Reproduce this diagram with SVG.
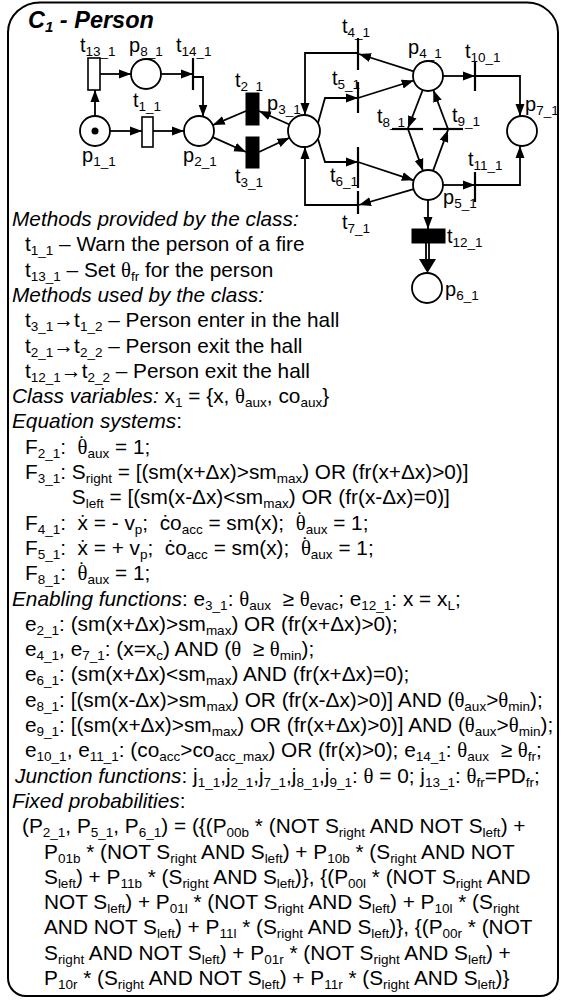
<svg xmlns="http://www.w3.org/2000/svg" width="568" height="1000" viewBox="0 0 568 1000">
<style>
text{font-family:"Liberation Sans",Arial,sans-serif;font-size:20.8px;fill:#000}
.n{font-size:20px}
.h{font-style:italic}
.s{font-size:13.5px;baseline-shift:-4px}
.g{font-family:"Liberation Serif","Times New Roman",serif}
.title{font-weight:bold;font-style:italic;font-size:23.5px}
.ts{font-size:15px;baseline-shift:-4px}
.ln{fill:none;stroke:#000;stroke-width:1.8}
.bar{stroke:#000;stroke-width:2.2}
.pl{fill:#fff;stroke:#000;stroke-width:1.8}
.tb{fill:#000;stroke:#000;stroke-width:1}
.tw{fill:#fff;stroke:#000;stroke-width:1.6}
</style>
<defs>
<marker id="a" markerWidth="12" markerHeight="10" refX="12" refY="5" orient="auto" markerUnits="userSpaceOnUse"><path d="M0,0.5 L12,5 L0,9.5 z" fill="#000"/></marker>
</defs>
<rect width="568" height="1000" fill="#fff"/>
<path id="frame" d="M8,32 A32,30 0 0 1 40,2.5 L527,2.5 A31,30 0 0 1 558,32 L558,978 A18,18 0 0 1 540,996 L26,996 A18,18 0 0 1 8,978 Z" fill="none" stroke="#000" stroke-width="2"/>
<text class="title" x="28" y="28">C<tspan class="ts">1</tspan> - Person</text>

<g id="connectors" class="ln" marker-end="url(#a)">
<path d="M95,116 L95,90"/>
<path d="M100,74 L131,74"/>
<path d="M161,74 L193,74"/>
<path d="M193,77 L203,77 L203,116.5"/>
<path d="M110,131 L142,131"/>
<path d="M153,131 L184,131"/>
<path d="M246,111 L212.8,125.1"/>
<path d="M212.7,137.1 L246,152"/>
<path d="M289.4,124.5 L259,111"/>
<path d="M259,152 L289.5,137.8"/>
<path d="M358,53 L305,53 L305,115"/>
<path d="M413.7,71.4 L359,54"/>
<path d="M318,123 L325,98 L358,98"/>
<path d="M358,98 L413.7,80.5"/>
<path d="M443,76 L475,76"/>
<path d="M475,76 L520,76 L520,116"/>
<path d="M443,185 L475,185"/>
<path d="M475,185 L520,185 L520,146"/>
<path d="M422.7,90 L408,128"/>
<path d="M448,129 L433.3,90"/>
<path d="M408,129 L423,170.9"/>
<path d="M433,170.9 L448,130"/>
<path d="M318,139 L325,162 L358,162"/>
<path d="M358,162 L413.7,180.3"/>
<path d="M413.6,189.2 L359,205"/>
<path d="M358,205 L305,205 L305,147"/>
<path d="M428,200 L428,229"/>
</g>
<g id="double-arc" class="ln">
<path d="M426,243 L426,262 M429,243 L429,262"/>
<polygon points="419,259 436,259 427.5,273" fill="#000" stroke="none"/>
</g>

<g id="p1_1"><circle class="pl" cx="95" cy="131" r="15"/><circle cx="95" cy="131" r="3.5" fill="#000"/><text class="n" x="82" y="162">p<tspan class="s">1_1</tspan></text></g>
<g id="p2_1"><circle class="pl" cx="199" cy="131" r="15"/><text class="n" x="183" y="162">p<tspan class="s">2_1</tspan></text></g>
<g id="p3_1"><circle class="pl" cx="304" cy="131" r="16"/><text class="n" x="267" y="110">p<tspan class="s">3_1</tspan></text></g>
<g id="p4_1"><circle class="pl" cx="428" cy="76" r="15"/><text class="n" x="408" y="54">p<tspan class="s">4_1</tspan></text></g>
<g id="p5_1"><circle class="pl" cx="428" cy="185" r="15"/><text class="n" x="443" y="204">p<tspan class="s">5_1</tspan></text></g>
<g id="p6_1"><circle class="pl" cx="427" cy="288" r="15"/><text class="n" x="445" y="296">p<tspan class="s">6_1</tspan></text></g>
<g id="p7_1"><circle class="pl" cx="522" cy="131" r="15"/><text class="n" x="525" y="111">p<tspan class="s">7_1</tspan></text></g>
<g id="p8_1"><circle class="pl" cx="146" cy="74" r="15"/><text class="n" x="129" y="52">p<tspan class="s">8_1</tspan></text></g>

<g id="t1_1"><rect class="tw" x="142" y="117" width="11" height="30"/><text class="n" x="133" y="107">t<tspan class="s">1_1</tspan></text></g>
<g id="t2_1"><rect class="tb" x="246" y="93" width="13" height="32"/><text class="n" x="235" y="87">t<tspan class="s">2_1</tspan></text></g>
<g id="t3_1"><rect class="tb" x="246" y="137" width="13" height="31"/><text class="n" x="235" y="183">t<tspan class="s">3_1</tspan></text></g>
<g id="t4_1"><line class="bar" x1="358" y1="38" x2="358" y2="70"/><text class="n" x="342" y="33">t<tspan class="s">4_1</tspan></text></g>
<g id="t5_1"><line class="bar" x1="358" y1="82" x2="358" y2="113"/><text class="n" x="332" y="85">t<tspan class="s">5_1</tspan></text></g>
<g id="t6_1"><line class="bar" x1="358" y1="147" x2="358" y2="188"/><text class="n" x="330" y="182">t<tspan class="s">6_1</tspan></text></g>
<g id="t7_1"><line class="bar" x1="358" y1="191" x2="358" y2="214"/><text class="n" x="342" y="229">t<tspan class="s">7_1</tspan></text></g>
<g id="t8_1"><line class="bar" x1="392" y1="129" x2="423" y2="129"/><text class="n" x="377" y="123">t<tspan class="s">8_1</tspan></text></g>
<g id="t9_1"><line class="bar" x1="433" y1="129" x2="463" y2="129"/><text class="n" x="452" y="122">t<tspan class="s">9_1</tspan></text></g>
<g id="t10_1"><line class="bar" x1="475" y1="62" x2="475" y2="91"/><text class="n" x="465" y="58">t<tspan class="s">10_1</tspan></text></g>
<g id="t11_1"><line class="bar" x1="475" y1="172" x2="475" y2="202"/><text class="n" x="468" y="166">t<tspan class="s">11_1</tspan></text></g>
<g id="t12_1"><rect class="tb" x="412" y="229" width="33" height="14"/><text class="n" x="447" y="243">t<tspan class="s">12_1</tspan></text></g>
<g id="t13_1"><rect class="tw" x="88" y="58" width="12" height="32"/><text class="n" x="80" y="52">t<tspan class="s">13_1</tspan></text></g>
<g id="t14_1"><line class="bar" x1="193" y1="58" x2="193" y2="90"/><text class="n" x="176" y="52">t<tspan class="s">14_1</tspan></text></g>

<g id="description">
<text class="h" x="12" y="226">Methods provided by the class:</text>
<text x="25" y="251.3">t<tspan class="s">1_1</tspan> – Warn the person of a fire</text>
<text x="25" y="276.6">t<tspan class="s">13_1</tspan> – Set <tspan class="g">θ</tspan><tspan class="s">fr</tspan> for the person</text>
<text class="h" x="12" y="301.9">Methods used by the class:</text>
<text x="25" y="327.2">t<tspan class="s">3_1</tspan>→t<tspan class="s">1_2</tspan> – Person enter in the hall</text>
<text x="25" y="352.5">t<tspan class="s">2_1</tspan>→t<tspan class="s">2_2</tspan> – Person exit the hall</text>
<text x="25" y="377.8">t<tspan class="s">12_1</tspan>→t<tspan class="s">2_2</tspan> – Person exit the hall</text>
<text x="12" y="403.1"><tspan class="h">Class variables:</tspan> x<tspan class="s">1</tspan> = {x, <tspan class="g">θ</tspan><tspan class="s">aux</tspan>, co<tspan class="s">aux</tspan>}</text>
<text x="12" y="428.4"><tspan class="h">Equation systems</tspan>:</text>
<text x="25" y="453.7" xml:space="preserve">F<tspan class="s">2_1</tspan>:  <tspan class="g">θ</tspan><tspan dx="-8.66" dy="-3">˙</tspan><tspan class="s" dx="1.73" dy="3">aux</tspan> = 1;</text>
<text x="25" y="479">F<tspan class="s">3_1</tspan>: S<tspan class="s">right</tspan> = [(sm(x+Δx)&gt;sm<tspan class="s">max</tspan>) OR (fr(x+Δx)&gt;0)]</text>
<text x="71.8" y="504.3">S<tspan class="s">left</tspan> = [(sm(x-Δx)&lt;sm<tspan class="s">max</tspan>) OR (fr(x-Δx)=0)]</text>
<text x="25" y="529.6" xml:space="preserve">F<tspan class="s">4_1</tspan>:  x&#x307; = - v<tspan class="s">p</tspan>;  &#x10B;o<tspan class="s">acc</tspan> = sm(x);  <tspan class="g">θ</tspan><tspan dx="-8.66" dy="-3">˙</tspan><tspan class="s" dx="1.73" dy="3">aux</tspan> = 1;</text>
<text x="25" y="554.9" xml:space="preserve">F<tspan class="s">5_1</tspan>:  x&#x307; = + v<tspan class="s">p</tspan>;  &#x10B;o<tspan class="s">acc</tspan> = sm(x);  <tspan class="g">θ</tspan><tspan dx="-8.66" dy="-3">˙</tspan><tspan class="s" dx="1.73" dy="3">aux</tspan> = 1;</text>
<text x="25" y="580.2" xml:space="preserve">F<tspan class="s">8_1</tspan>:  <tspan class="g">θ</tspan><tspan dx="-8.66" dy="-3">˙</tspan><tspan class="s" dx="1.73" dy="3">aux</tspan> = 1;</text>
<text x="12" y="605.5" xml:space="preserve"><tspan class="h">Enabling functions</tspan>: e<tspan class="s">3_1</tspan>: <tspan class="g">θ</tspan><tspan class="s">aux</tspan>  ≥ <tspan class="g">θ</tspan><tspan class="s">evac</tspan>; e<tspan class="s">12_1</tspan>: x = x<tspan class="s">L</tspan>;</text>
<text x="25" y="630.8">e<tspan class="s">2_1</tspan>: (sm(x+Δx)&gt;sm<tspan class="s">max</tspan>) OR (fr(x+Δx)&gt;0);</text>
<text x="25" y="656.1" xml:space="preserve">e<tspan class="s">4_1</tspan>, e<tspan class="s">7_1</tspan>: (x=x<tspan class="s">c</tspan>) AND (<tspan class="g">θ</tspan>  ≥ <tspan class="g">θ</tspan><tspan class="s">min</tspan>);</text>
<text x="25" y="681.4">e<tspan class="s">6_1</tspan>: (sm(x+Δx)&lt;sm<tspan class="s">max</tspan>) AND (fr(x+Δx)=0);</text>
<text x="25" y="706.7">e<tspan class="s">8_1</tspan>: [(sm(x-Δx)&gt;sm<tspan class="s">max</tspan>) OR (fr(x-Δx)&gt;0)] AND (<tspan class="g">θ</tspan><tspan class="s">aux</tspan>&gt;<tspan class="g">θ</tspan><tspan class="s">min</tspan>);</text>
<text x="25" y="732">e<tspan class="s">9_1</tspan>: [(sm(x+Δx)&gt;sm<tspan class="s">max</tspan>) OR (fr(x+Δx)&gt;0)] AND (<tspan class="g">θ</tspan><tspan class="s">aux</tspan>&gt;<tspan class="g">θ</tspan><tspan class="s">min</tspan>);</text>
<text x="25" y="757.3" xml:space="preserve">e<tspan class="s">10_1</tspan>, e<tspan class="s">11_1</tspan>: (co<tspan class="s">acc</tspan>&gt;co<tspan class="s">acc_max</tspan>) OR (fr(x)&gt;0); e<tspan class="s">14_1</tspan>: <tspan class="g">θ</tspan><tspan class="s">aux</tspan>  ≥ <tspan class="g">θ</tspan><tspan class="s">fr</tspan>;</text>
<text x="15" y="782.6"><tspan class="h">Junction functions</tspan>: j<tspan class="s">1_1</tspan>,j<tspan class="s">2_1</tspan>,j<tspan class="s">7_1</tspan>,j<tspan class="s">8_1</tspan>,j<tspan class="s">9_1</tspan>: <tspan class="g">θ</tspan> = 0; j<tspan class="s">13_1</tspan>: <tspan class="g">θ</tspan><tspan class="s">fr</tspan>=PD<tspan class="s">fr</tspan>;</text>
<text x="12" y="807.9"><tspan class="h">Fixed probabilities</tspan>:</text>
<text x="22" y="833.2">(P<tspan class="s">2_1</tspan>, P<tspan class="s">5_1</tspan>, P<tspan class="s">6_1</tspan>) = ({(P<tspan class="s">00b</tspan> * (NOT S<tspan class="s">right</tspan> AND NOT S<tspan class="s">left</tspan>) +</text>
<text x="44" y="858.5">P<tspan class="s">01b</tspan> * (NOT S<tspan class="s">right</tspan> AND S<tspan class="s">left</tspan>) + P<tspan class="s">10b</tspan> * (S<tspan class="s">right</tspan> AND NOT</text>
<text x="44" y="883.8">S<tspan class="s">left</tspan>) + P<tspan class="s">11b</tspan> * (S<tspan class="s">right</tspan> AND S<tspan class="s">left</tspan>)}, {(P<tspan class="s">00l</tspan> * (NOT S<tspan class="s">right</tspan> AND</text>
<text x="44" y="909.1">NOT S<tspan class="s">left</tspan>) + P<tspan class="s">01l</tspan> * (NOT S<tspan class="s">right</tspan> AND S<tspan class="s">left</tspan>) + P<tspan class="s">10l</tspan> * (S<tspan class="s">right</tspan></text>
<text x="44" y="934.4">AND NOT S<tspan class="s">left</tspan>) + P<tspan class="s">11l</tspan> * (S<tspan class="s">right</tspan> AND S<tspan class="s">left</tspan>)}, {(P<tspan class="s">00r</tspan> * (NOT</text>
<text x="44" y="959.7">S<tspan class="s">right</tspan> AND NOT S<tspan class="s">left</tspan>) + P<tspan class="s">01r</tspan> * (NOT S<tspan class="s">right</tspan> AND S<tspan class="s">left</tspan>) +</text>
<text x="44" y="985">P<tspan class="s">10r</tspan> * (S<tspan class="s">right</tspan> AND NOT S<tspan class="s">left</tspan>) + P<tspan class="s">11r</tspan> * (S<tspan class="s">right</tspan> AND S<tspan class="s">left</tspan>)}</text>
</g>
</svg>
